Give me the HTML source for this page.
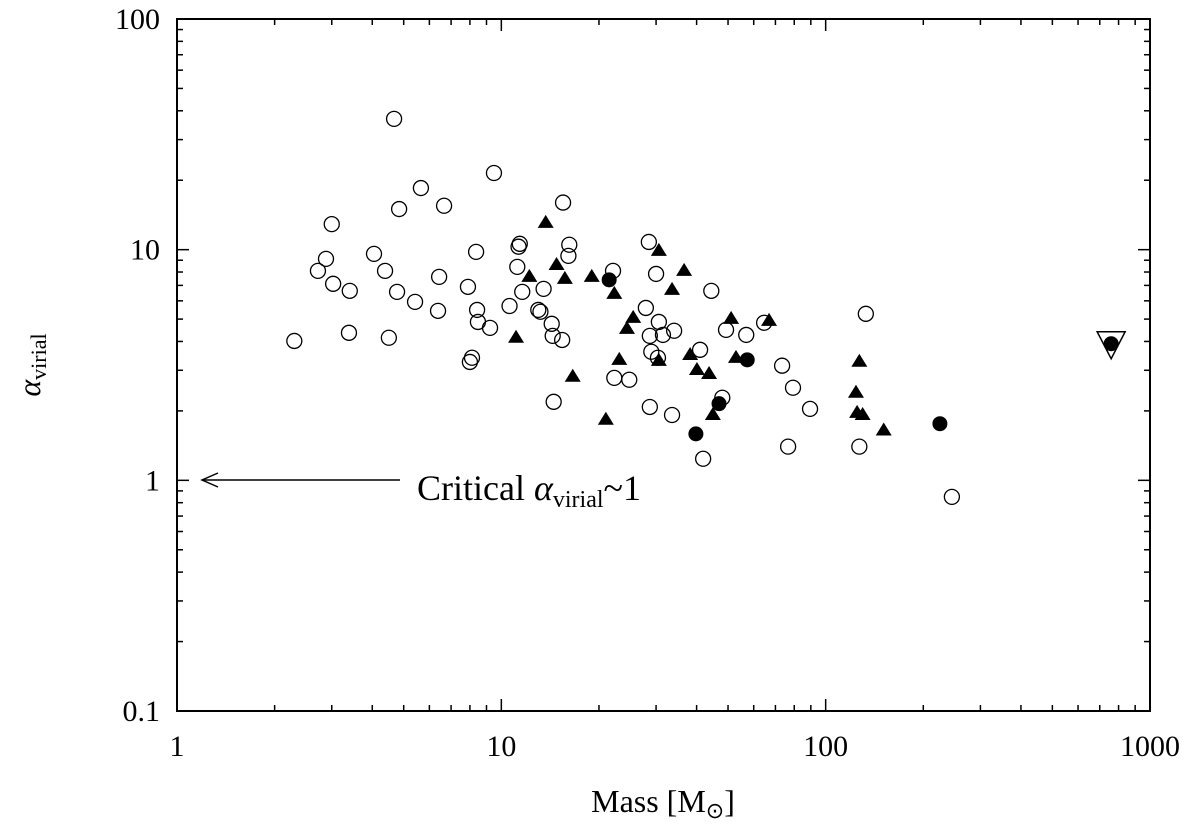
<!DOCTYPE html>
<html><head><meta charset="utf-8"><style>
html,body{margin:0;padding:0;background:#fff;}
svg{display:block;font-family:"Liberation Serif",serif;}
</style></head><body>
<svg id="chart" width="1200" height="827" viewBox="0 0 1200 827"></svg>
<script>
const openMass=[2.30,2.72,2.88,3.00,3.03,3.41,3.39,4.05,4.38,4.50,4.67,4.77,4.84,5.42,5.65,6.43,6.38,6.66,7.89,8.00,8.12,8.36,8.42,8.47,9.23,9.49,10.6,11.2,11.3,11.4,11.6,13.0,13.2,13.5,14.3,14.4,14.5,15.4,15.5,16.1,16.2,22.1,22.3,24.8,27.9,28.5,28.7,28.7,29.0,30.0,30.6,30.4,31.5,33.6,34.1,41.0,41.9,44.4,48.0,49.3,56.9,64.6,73.4,76.6,79.3,89.5,127,133,245];
const openAlpha=[4.02,8.09,9.12,12.9,7.11,6.63,4.36,9.59,8.09,4.15,36.9,6.56,15.0,5.94,18.5,7.62,5.43,15.5,6.90,3.26,3.40,9.78,5.48,4.86,4.58,21.5,5.70,8.42,10.3,10.6,6.56,5.48,5.38,6.76,4.77,4.23,2.19,4.06,16.0,9.40,10.5,8.09,2.78,2.73,5.59,10.8,2.08,4.23,3.61,7.85,4.86,3.40,4.27,1.92,4.45,3.68,1.24,6.63,2.28,4.49,4.27,4.82,3.14,1.40,2.52,2.04,1.40,5.27,0.848];
const triMass=[13.7,12.2,14.8,15.7,19.0,22.3,24.4,25.5,30.6,33.6,36.6,66.9,51.1,52.9,11.1,16.6,21.0,23.1,30.6,38.2,40.1,43.7,44.9,127,124,125,130,151];
const triAlpha=[13.2,7.70,8.67,7.55,7.70,6.50,4.58,5.11,9.98,6.76,8.17,4.96,5.06,3.43,4.19,2.84,1.85,3.36,3.33,3.53,3.04,2.92,1.94,3.30,2.42,1.98,1.94,1.66];
const fillMass=[21.5,39.8,46.9,57.3,225,759];
const fillAlpha=[7.40,1.59,2.15,3.33,1.76,3.91];
const invMass=[759];
const invAlpha=[3.91];
const xTicks=[1,10,100,1000];
const xTickLabels=["1","10","100","1000"];
const yTicks=[0.1,1,10,100];
const yTickLabels=["0.1","1","10","100"];

const L=177,R=1150,T=19,B=711;
const X=v=>L+(Math.log10(v)-0)/3*(R-L);
const Y=v=>B-(Math.log10(v)+1)/3*(B-T);
const NS="http://www.w3.org/2000/svg";
const svg=document.getElementById('chart');
function mk(tag,attrs,parent){const e=document.createElementNS(NS,tag);for(const k in attrs)e.setAttribute(k,attrs[k]);(parent||svg).appendChild(e);return e;}

// ticks
const tg=mk('g',{stroke:'#000','stroke-width':1.5});


for(let d=0;d<3;d++)for(let m=1;m<=9;m++){
  const v=Math.pow(10,d)*m, x=X(v), len=m===1?12:6;
  mk('line',{x1:x,x2:x,y1:B,y2:B-len},tg);mk('line',{x1:x,x2:x,y1:T,y2:T+len},tg);
  const w=Math.pow(10,d-1)*m, y=Y(w);
  mk('line',{x1:L,x2:L+len,y1:y,y2:y},tg);mk('line',{x1:R,x2:R-len,y1:y,y2:y},tg);
}
const fr=mk('rect',{x:L,y:T,width:R-L,height:B-T,fill:'none',stroke:'#000','stroke-width':2});



xTicks.forEach((v,i)=>{const t=mk('text',{x:X(v),y:756,'text-anchor':'middle','font-size':30});t.textContent=xTickLabels[i];

});
yTicks.forEach((v,i)=>{const t=mk('text',{x:160,y:Y(v)+10,'text-anchor':'end','font-size':30});t.textContent=yTickLabels[i];

});

const xl=mk('text',{x:663,y:812,'text-anchor':'middle','font-size':32});
xl.innerHTML='Mass [M<tspan font-size="22" dy="6">⊙</tspan><tspan dy="-6">]</tspan>';


const yl=mk('text',{x:0,y:0,'text-anchor':'middle','font-size':32,transform:'translate(40,365) rotate(-90)'});
yl.innerHTML='<tspan font-style="italic">α</tspan><tspan font-size="22" dy="6">virial</tspan>';



// annotation
const ag=mk('g',{});


mk('line',{x1:202,x2:400,y1:480,y2:480,stroke:'#000','stroke-width':1.5},ag);
mk('path',{d:'M218,473 L202,480 L218,487',fill:'none',stroke:'#000','stroke-width':1.5},ag);
const at=mk('text',{x:417,y:500,'font-size':36},ag);
at.innerHTML='Critical <tspan font-style="italic">α</tspan><tspan font-size="24" dy="7">virial</tspan><tspan dy="-7">~1</tspan>';

openMass.forEach((m,i)=>{const c=mk('circle',{cx:X(m),cy:Y(openAlpha[i]),r:7.5,fill:'none',stroke:'#000','stroke-width':1.3});

});
triMass.forEach((m,i)=>{const x=X(m),y=Y(triAlpha[i]);const p=mk('path',{d:`M${x},${y-7} L${x+8},${y+6} L${x-8},${y+6} Z`,fill:'#000'});

});
fillMass.forEach((m,i)=>{const c=mk('circle',{cx:X(m),cy:Y(fillAlpha[i]),r:7.5,fill:'#000'});

});
invMass.forEach((m,i)=>{const x=X(m),y=Y(invAlpha[i]);const p=mk('path',{d:`M${x-14},${y-12} L${x+14},${y-12} L${x},${y+15} Z`,fill:'none',stroke:'#000','stroke-width':1.5});

});
</script>
</body></html>
